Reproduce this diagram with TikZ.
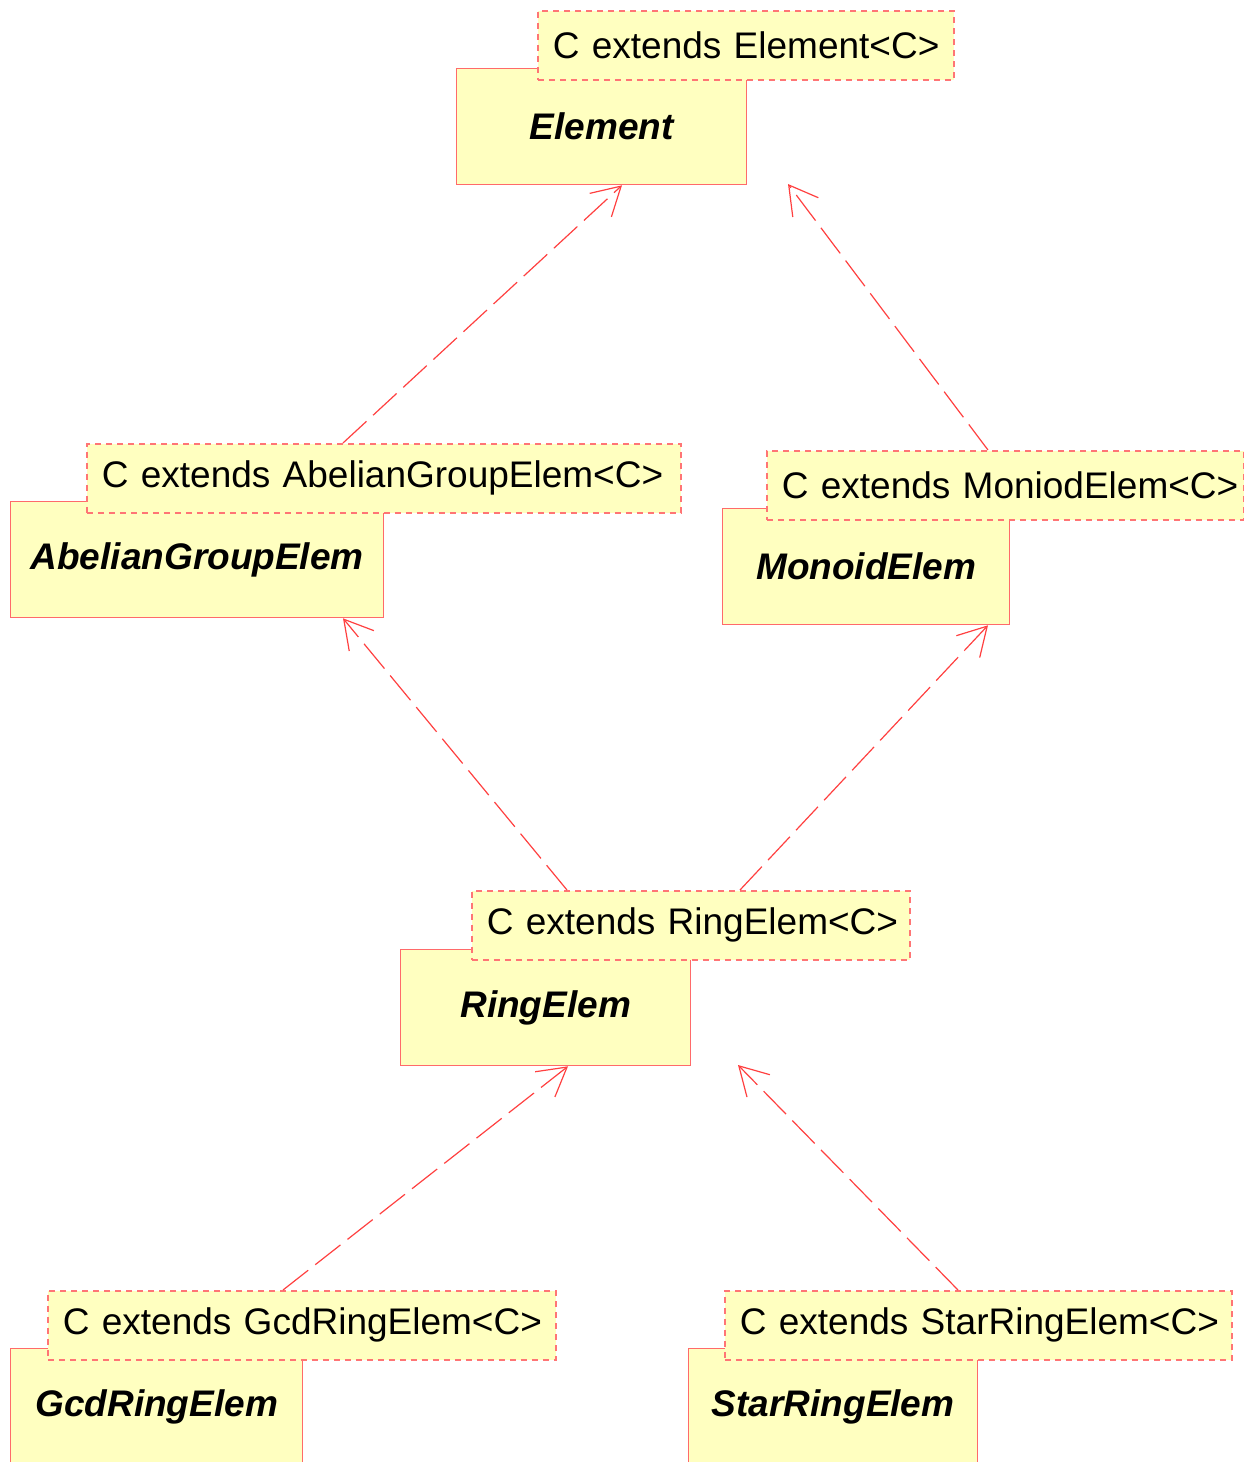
\documentclass[tikz,border=0pt]{standalone}
\usepackage{fontspec}
\setmainfont{Liberation Sans}
\usetikzlibrary{arrows.meta}
\definecolor{umlfill}{HTML}{FFFFC0}
\definecolor{umlborder}{HTML}{FF6A6A}
\definecolor{tmplborder}{HTML}{FF7575}
\definecolor{umlline}{HTML}{FF4040}
\begin{document}
\begin{tikzpicture}[x=1pt,y=-1pt,
  classbox/.style={draw=umlborder, fill=umlfill, line width=1.3pt, anchor=north west,
    inner sep=0pt, minimum height=116pt, font=\fontsize{37}{44}\selectfont\bfseries\itshape},
  tmplbox/.style={draw=tmplborder, fill=umlfill, line width=1.6pt, dash pattern=on 6pt off 5pt,
    anchor=north west, inner xsep=15pt, inner ysep=0pt, minimum height=69pt, align=left,
    font=\fontsize{37}{44}\selectfont},
  realize/.style={draw=umlline, line width=1.2pt, dash pattern=on 32pt off 9pt,
    -{Straight Barb[length=28pt,width=32pt,line width=1.2pt]}}]
\useasboundingbox (0,0) rectangle (1244,1462);
% class boxes
\node[classbox, minimum width=290pt] (elem) at (456,68) {Element};
\node[classbox, minimum width=373pt] (abel) at (10,501) {AbelianGroupElem};
\node[classbox, minimum width=287pt] (mono) at (722,508) {MonoidElem};
\node[classbox, minimum width=290pt] (ring) at (400,949) {RingElem};
\node[classbox, minimum width=292pt] (gcd) at (10,1348) {GcdRingElem};
\node[classbox, minimum width=289pt] (star) at (688,1348) {StarRingElem};
% template boxes
\node[tmplbox, text width=386pt] (telem) at (537,10) {\mbox{C extends Element<C>}};
\node[tmplbox, text width=564pt] (tabel) at (86,443) {\mbox{C extends AbelianGroupElem<C>}};
\node[tmplbox, text width=447pt] (tmono) at (766,450) {\mbox{C extends MoniodElem<C>}};
\node[tmplbox, text width=408pt] (tring) at (471,890) {\mbox{C extends RingElem<C>}};
\node[tmplbox, text width=478pt] (tgcd) at (47,1290) {\mbox{C extends GcdRingElem<C>}};
\node[tmplbox, text width=477pt] (tstar) at (724,1290) {\mbox{C extends StarRingElem<C>}};
% free arrow ends
\coordinate (elemR) at (788,184);
\coordinate (ringR) at (738,1065);
% connectors
\draw[realize] ([xshift=257pt]tabel.north west) -- ([xshift=166pt]elem.south west);
\draw[realize] ([xshift=222pt]tmono.north west) -- (elemR);
\draw[realize] ([xshift=96pt]tring.north west) -- ([xshift=333pt]abel.south west);
\draw[realize] ([xshift=269pt]tring.north west) -- ([xshift=266pt]mono.south west);
\draw[realize] ([xshift=236pt]tgcd.north west) -- ([xshift=168pt]ring.south west);
\draw[realize] ([xshift=234pt]tstar.north west) -- (ringR);
\end{tikzpicture}
\end{document}
